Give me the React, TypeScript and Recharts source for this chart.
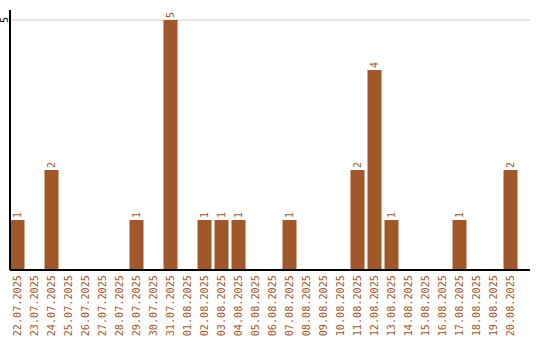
import { BarChart, Bar, XAxis, YAxis, CartesianGrid, LabelList } from "recharts";

const DATES = [
  "22.07.2025","23.07.2025","24.07.2025","25.07.2025","26.07.2025","27.07.2025",
  "28.07.2025","29.07.2025","30.07.2025","31.07.2025","01.08.2025","02.08.2025",
  "03.08.2025","04.08.2025","05.08.2025","06.08.2025","07.08.2025","08.08.2025",
  "09.08.2025","10.08.2025","11.08.2025","12.08.2025","13.08.2025","14.08.2025",
  "15.08.2025","16.08.2025","17.08.2025","18.08.2025","19.08.2025","20.08.2025",
];
const COUNTS = [1,0,2,0,0,0,0,1,0,5,0,1,1,1,0,0,1,0,0,0,2,4,1,0,0,0,1,0,0,2];
const Y_TICKS = [5];

const BROWN = "#a0582b";
const FONT = "'DejaVu Sans Mono', monospace";

const data = DATES.map((d, i) => ({ date: d, count: COUNTS[i] }));

function XTick({ x, y, payload }: any) {
  return (
    <text
      transform={`translate(${x + 3.5},${y + 3}) rotate(-90)`}
      textAnchor="end"
      fontSize={10.2}
      fontFamily={FONT}
      fill={BROWN}
    >
      {payload.value}
    </text>
  );
}

function YTick({ y, payload }: any) {
  return (
    <text
      transform={`translate(${7.5},${y}) rotate(-90)`}
      textAnchor="middle"
      fontSize={10}
      fontFamily={FONT}
      fill="#000"
    >
      {payload.value}
    </text>
  );
}

function ValueLabel({ x, y, width, value }: any) {
  if (!value) return null;
  return (
    <text
      transform={`translate(${x + width / 2 + 3.5},${y - 2}) rotate(-90)`}
      textAnchor="start"
      fontSize={10}
      fontFamily={FONT}
      fill={BROWN}
    >
      {value}
    </text>
  );
}

export default function App() {
  return (
    <div style={{ position: "absolute", left: 0, top: 0 }}>
      <BarChart
        width={540}
        height={340}
        data={data}
        margin={{ top: 10, right: 10, left: 0, bottom: 0 }}
      >
        <CartesianGrid vertical={false} stroke="#cccccc" horizontalValues={Y_TICKS} />
        <XAxis
          dataKey="date"
          interval={0}
          height={70}
          tickLine={false}
          tickSize={0}
          axisLine={{ stroke: "#000", strokeWidth: 2 }}
          padding={{ left: -1.5, right: 11.5 }}
          tick={<XTick />}
        />
        <YAxis
          width={10}
          domain={[0, 5.2]}
          ticks={Y_TICKS}
          tickLine={false}
          tickSize={0}
          axisLine={{ stroke: "#000", strokeWidth: 2 }}
          tick={<YTick />}
        />
        <Bar dataKey="count" fill={BROWN} barSize={14} isAnimationActive={false}>
          <LabelList dataKey="count" content={<ValueLabel />} />
        </Bar>
      </BarChart>
    </div>
  );
}
